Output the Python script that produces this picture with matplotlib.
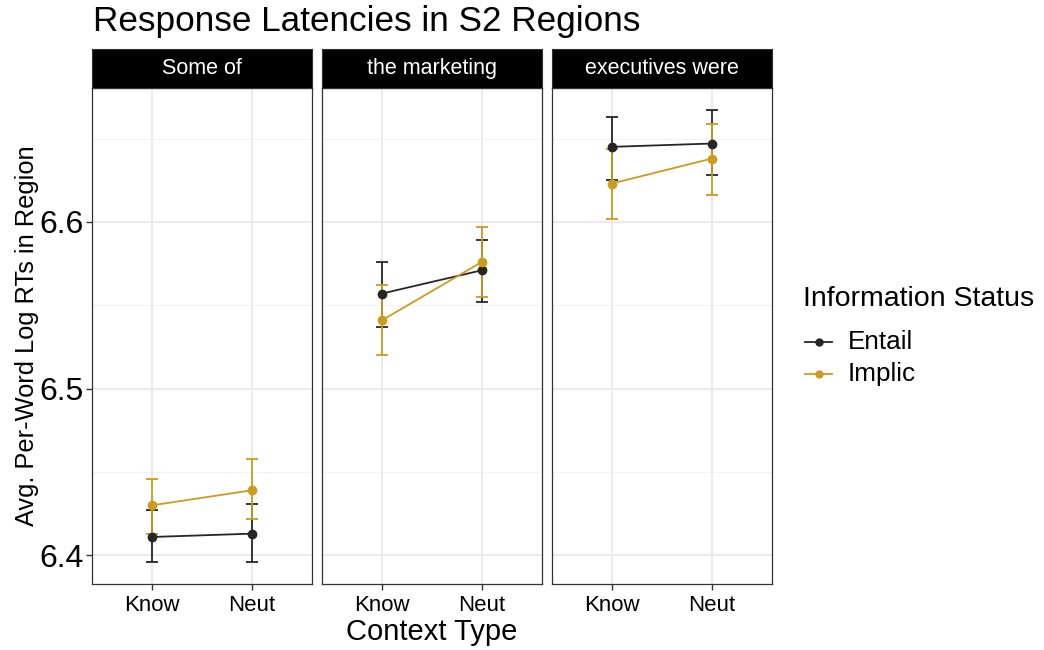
import matplotlib.pyplot as plt
from matplotlib.lines import Line2D
import numpy as np

plt.rcParams['font.family'] = ['Liberation Sans', 'DejaVu Sans']

# data
regions = ["Some of", "the marketing", "executives were"]
contexts = ["Know", "Neut"]
entail_mean = [[6.411, 6.413], [6.557, 6.571], [6.645, 6.647]]
entail_lo = [[6.396, 6.396], [6.537, 6.552], [6.625, 6.628]]
entail_hi = [[6.427, 6.431], [6.576, 6.589], [6.663, 6.667]]
implic_mean = [[6.430, 6.439], [6.541, 6.576], [6.623, 6.638]]
implic_lo = [[6.413, 6.422], [6.520, 6.555], [6.602, 6.616]]
implic_hi = [[6.446, 6.458], [6.562, 6.597], [6.644, 6.659]]
y_ticks = [6.4, 6.5, 6.6]
y_minor = [6.45, 6.55, 6.65]
series_names = ["Entail", "Implic"]

col_entail = "#262626"
col_implic = "#CD9B1D"

W, H = 1044, 650
fig = plt.figure(figsize=(W / 100, H / 100), dpi=100)

panel_left = [92, 322, 552]
panel_w = 220
top, bottom = 88, 584
strip_top = 49

x = np.arange(1, len(contexts) + 1)

for k, reg in enumerate(regions):
    ax = fig.add_axes([panel_left[k] / W, 1 - bottom / H, panel_w / W, (bottom - top) / H])
    ax.set_xlim(0.4, 2.6)
    ax.set_ylim(6.3828, 6.6803)
    for y in y_minor:
        ax.axhline(y, color="#F2F2F2", lw=0.8, zorder=0)
    for y in y_ticks:
        ax.axhline(y, color="#EBEBEB", lw=1.4, zorder=0)
    for xx in x:
        ax.axvline(xx, color="#EBEBEB", lw=1.4, zorder=0)

    for mean, lo, hi, col in [(entail_mean, entail_lo, entail_hi, col_entail),
                              (implic_mean, implic_lo, implic_hi, col_implic)]:
        m = np.array(mean[k])
        err = [m - np.array(lo[k]), np.array(hi[k]) - m]
        ax.errorbar(x, m, yerr=err, color=col, lw=1.3, marker="o", ms=6,
                    capsize=4.5, capthick=1.3, elinewidth=1.3, zorder=3)

    ax.set_xticks(x)
    ax.set_xticklabels(contexts, fontsize=16)
    ax.set_yticks(y_ticks)
    if k == 0:
        ax.set_yticklabels([str(t) for t in y_ticks], fontsize=23)
        ax.tick_params(axis="y", length=4, color="#333333", width=1, pad=2)
    else:
        ax.tick_params(axis="y", length=0, labelleft=False)
    ax.tick_params(axis="x", length=4, color="#333333", width=1, pad=4)
    for s in ax.spines.values():
        s.set_color("#333333")
        s.set_linewidth(0.9)

    # strip
    sax = fig.add_axes([panel_left[k] / W, 1 - top / H, panel_w / W, (top - strip_top) / H])
    sax.set_facecolor("black")
    sax.set_xticks([])
    sax.set_yticks([])
    for s in sax.spines.values():
        s.set_color("#333333")
    sax.text(0.5, 0.5, reg, color="white", fontsize=15.5, ha="center", va="center",
             transform=sax.transAxes)

fig.text(93 / W, 1 - 22 / H, "Response Latencies in S2 Regions", fontsize=25.3,
         ha="left", va="center")
fig.text((92 + 772) / 2 / W, 1 - 632 / H, "Context Type", fontsize=21,
         ha="center", va="center")
fig.text(27 / W, 1 - 336 / H, "Avg. Per-Word Log RTs in Region", fontsize=18.3,
         rotation=90, ha="center", va="center")

# legend, placed by hand
fig.text(803 / W, 1 - 299 / H, "Information Status", fontsize=20.5,
         ha="left", va="center")
for i, (name, col) in enumerate(zip(series_names, [col_entail, col_implic])):
    yy = 1 - (342 + 32 * i) / H
    fig.add_artist(Line2D([805 / W, 832 / W], [yy, yy], color=col, lw=1.3,
                          transform=fig.transFigure))
    fig.add_artist(Line2D([818.5 / W], [yy], color=col, marker="o", ms=5,
                          transform=fig.transFigure))
    fig.text(848 / W, yy, name, fontsize=18.8, ha="left", va="center")

fig.savefig("out.png", dpi=100)
